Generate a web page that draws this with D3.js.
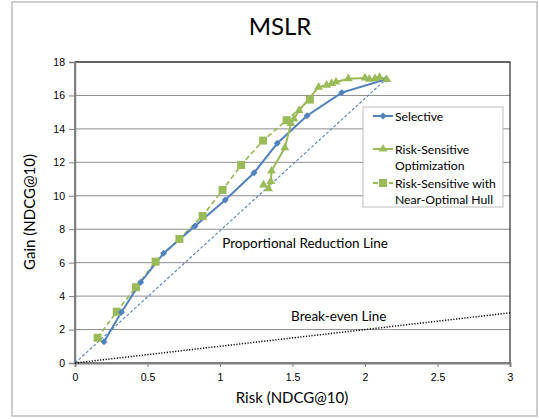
<!DOCTYPE html>
<html lang="en">
<head>
    <meta charset="UTF-8">
    <title>MSLR</title>
    <style>
        body { margin: 0; background: #fff; }
        svg { display: block; font-family: Lato, "Open Sans", sans-serif; }
        .grid line { stroke: #8c8c8c; stroke-width: 1; }
        .axis text { font-size: 10.5px; fill: #000; }
    </style>
</head>
<body>
    <svg id="chart"></svg>

    <script src="https://cdnjs.cloudflare.com/ajax/libs/d3/7.9.0/d3.js"></script>
    <script>
        // values
        const selective = [
            [0.20, 1.27], [0.32, 3.03], [0.453, 4.83], [0.611, 6.56], [0.828, 8.19],
            [1.036, 9.75], [1.235, 11.38], [1.395, 13.14], [1.60, 14.79], [1.84, 16.17],
            [2.145, 16.97]
        ];
        const riskOpt = [
            [1.30, 10.65], [1.335, 10.43], [1.35, 10.85], [1.355, 11.48], [1.447, 12.87],
            [1.49, 14.32], [1.51, 14.6], [1.545, 15.1], [1.68, 16.5], [1.735, 16.62],
            [1.77, 16.72], [1.80, 16.8], [1.885, 17.0], [2.0, 17.05], [2.03, 16.97],
            [2.07, 17.0], [2.1, 17.08], [2.15, 16.95]
        ];
        const riskHull = [
            [0.156, 1.51], [0.288, 3.07], [0.42, 4.53], [0.556, 6.06], [0.72, 7.42],
            [0.88, 8.79], [1.018, 10.35], [1.146, 11.84], [1.297, 13.3], [1.46, 14.52],
            [1.62, 15.75]
        ];
        const propLine = [[0, 0], [2.145, 16.97]];
        const breakEven = [[0, 0], [3, 3]];
        const xTicks = [0, 0.5, 1, 1.5, 2, 2.5, 3];
        const yTicks = [0, 2, 4, 6, 8, 10, 12, 14, 16, 18];
        const legendNames = [["Selective"], ["Risk-Sensitive", "Optimization"], ["Risk-Sensitive with", "Near-Optimal Hull"]];

        const w = 539, h = 419;
        const blue = "#4f81bd", green = "#9bbb59", cyan = "#4bacc6";

        const svg = d3.select("#chart").attr("width", w).attr("height", h);

        // outer chart border
        svg.append("rect")
            .attr("x", 12).attr("y", 2).attr("width", 525).attr("height", 414)
            .attr("fill", "#fff").attr("stroke", "#bdbdbd").attr("stroke-width", 1.5);

        const x = d3.scaleLinear().domain([0, 3]).range([75, 510]);
        const y = d3.scaleLinear().domain([0, 18]).range([363, 62]);

        // gridlines
        svg.append("g").attr("class", "grid")
            .selectAll("line").data(yTicks.slice(1)).enter().append("line")
            .attr("x1", x(0)).attr("x2", x(3))
            .attr("y1", d => y(d)).attr("y2", d => y(d));

        // plot border (top/right black)
        svg.append("rect")
            .attr("x", x(0)).attr("y", y(18))
            .attr("width", x(3) - x(0)).attr("height", y(0) - y(18))
            .attr("fill", "none").attr("stroke", "#000").attr("stroke-width", 1);

        // axes
        const xAxis = d3.axisBottom(x).tickValues(xTicks).tickSize(4).tickPadding(7)
            .tickFormat(d3.format("~g"));
        const yAxis = d3.axisLeft(y).tickValues(yTicks).tickSize(6).tickPadding(4);

        const gx = svg.append("g").attr("class", "axis")
            .attr("transform", "translate(0," + y(0) + ")").call(xAxis);
        const gy = svg.append("g").attr("class", "axis")
            .attr("transform", "translate(" + x(0) + ",0)").call(yAxis);
        gx.select(".domain").attr("stroke", "#7f7f7f").attr("stroke-width", 2);
        gy.select(".domain").attr("stroke", "#7f7f7f").attr("stroke-width", 1.5);
        gx.selectAll(".tick line").attr("stroke", "#7f7f7f");
        gy.selectAll(".tick line").attr("stroke", "#7f7f7f");

        const line = d3.line().x(d => x(d[0])).y(d => y(d[1]));

        // reference lines
        svg.append("path").datum(propLine).attr("d", line)
            .attr("fill", "none").attr("stroke", blue).attr("stroke-width", 1.1)
            .attr("stroke-dasharray", "3,2");
        svg.append("path").datum(breakEven).attr("d", line)
            .attr("fill", "none").attr("stroke", "#000").attr("stroke-width", 1.5)
            .attr("stroke-dasharray", "1.2,1.6");
        svg.selectAll(".be").data(breakEven).enter().append("path")
            .attr("class", "be")
            .attr("transform", d => "translate(" + x(d[0]) + "," + y(d[1]) + ")")
            .attr("d", d3.symbol(d3.symbolTimes, 30))
            .attr("fill", cyan);

        // series
        svg.append("path").datum(riskHull).attr("d", line)
            .attr("fill", "none").attr("stroke", green).attr("stroke-width", 1.75)
            .attr("stroke-dasharray", "5,3");
        svg.append("path").datum(selective).attr("d", line)
            .attr("fill", "none").attr("stroke", blue).attr("stroke-width", 2);
        svg.append("path").datum(riskOpt).attr("d", line)
            .attr("fill", "none").attr("stroke", green).attr("stroke-width", 2);

        svg.selectAll(".sq").data(riskHull).enter().append("rect")
            .attr("class", "sq")
            .attr("x", d => x(d[0]) - 4).attr("y", d => y(d[1]) - 4)
            .attr("width", 8).attr("height", 8).attr("fill", green);
        svg.selectAll(".dm").data(selective).enter().append("path")
            .attr("class", "dm")
            .attr("transform", d => "translate(" + x(d[0]) + "," + y(d[1]) + ") rotate(45)")
            .attr("d", d3.symbol(d3.symbolSquare, 24)).attr("fill", blue);
        svg.selectAll(".tr").data(riskOpt).enter().append("path")
            .attr("class", "tr")
            .attr("transform", d => "translate(" + x(d[0]) + "," + y(d[1]) + ")")
            .attr("d", d3.symbol(d3.symbolTriangle, 34)).attr("fill", green);

        // annotations
        svg.append("text").attr("x", x(1.015)).attr("y", y(6.9))
            .attr("font-size", 13.5).text("Proportional Reduction Line");
        svg.append("text").attr("x", x(1.49)).attr("y", y(2.5))
            .attr("font-size", 13.5).text("Break-even Line");

        // title and axis titles
        svg.append("text").attr("x", 280).attr("y", 35).attr("text-anchor", "middle")
            .attr("font-size", 24).text("MSLR");
        svg.append("text").attr("x", 292).attr("y", 403).attr("text-anchor", "middle")
            .attr("font-size", 15).text("Risk (NDCG@10)");
        svg.append("text").attr("transform", "translate(35,212) rotate(-90)")
            .attr("text-anchor", "middle").attr("font-size", 15).text("Gain (NDCG@10)");

        // legend
        const lg = svg.append("g");
        lg.append("rect").attr("x", 363).attr("y", 107).attr("width", 140).attr("height", 100)
            .attr("fill", "#fff").attr("stroke", "#bfbfbf").attr("stroke-width", 1);
        const rows = [116, 149, 183];
        const styles = [
            { c: blue, dash: null, sym: "dm" },
            { c: green, dash: null, sym: "tr" },
            { c: green, dash: "5,3", sym: "sq" }
        ];
        legendNames.forEach((names, i) => {
            const cy = rows[i], s = styles[i];
            lg.append("line").attr("x1", 373).attr("x2", 393).attr("y1", cy).attr("y2", cy)
                .attr("stroke", s.c).attr("stroke-width", 2)
                .attr("stroke-dasharray", s.dash);
            if (s.sym === "dm") {
                lg.append("path").attr("transform", "translate(383," + cy + ") rotate(45)")
                    .attr("d", d3.symbol(d3.symbolSquare, 24)).attr("fill", s.c);
            } else if (s.sym === "tr") {
                lg.append("path").attr("transform", "translate(383," + cy + ")")
                    .attr("d", d3.symbol(d3.symbolTriangle, 34)).attr("fill", s.c);
            } else {
                lg.append("rect").attr("x", 379).attr("y", cy - 4).attr("width", 8).attr("height", 8)
                    .attr("fill", s.c);
            }
            names.forEach((n, j) => {
                lg.append("text").attr("x", 395).attr("y", cy + 5 + j * 16)
                    .attr("font-size", 12.2).text(n);
            });
        });
    </script>
</body>
</html>
